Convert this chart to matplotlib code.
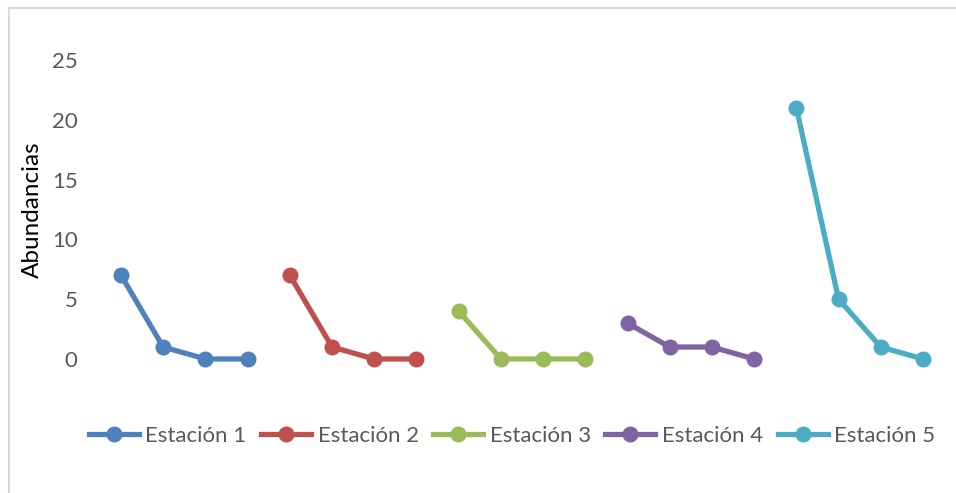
import numpy as np
import matplotlib
matplotlib.use('Agg')
import matplotlib.pyplot as plt
from matplotlib.lines import Line2D

plt.rcParams['font.family'] = ['Lato', 'DejaVu Sans']

# Abundances per station, four samples each
station_names = ["Estación 1", "Estación 2", "Estación 3", "Estación 4", "Estación 5"]
est1 = [7, 1, 0, 0]
est2 = [7, 1, 0, 0]
est3 = [4, 0, 0, 0]
est4 = [3, 1, 1, 0]
est5 = [21, 5, 1, 0]
series = [est1, est2, est3, est4, est5]
colors = ["#4F81BD", "#C0504D", "#9BBB59", "#8064A2", "#4BACC6"]
y_ticks = [0, 5, 10, 15, 20, 25]

n_cat = sum(len(s) for s in series)

fig = plt.figure(figsize=(9.56, 4.93), dpi=100)
ax = fig.add_axes([99.9 / 956, 1 - 420 / 493, 844.2 / 956, 390 / 493])

start = 0
for name, vals, col in zip(station_names, series, colors):
    y = np.full(n_cat, np.nan)
    y[start:start + len(vals)] = vals
    ax.plot(np.arange(n_cat), y, color=col, lw=3.8, marker='o', ms=10.5,
            solid_capstyle='round', label=name)
    start += len(vals)

ax.set_xlim(-0.5, n_cat - 0.5)
ax.set_ylim(-5.1, 27.5)
ax.set_xticks([])
ax.set_yticks(y_ticks)
ax.tick_params(axis='y', length=0, labelsize=16, labelcolor='#595959', pad=16)
for sp in ax.spines.values():
    sp.set_visible(False)

fig.text(32 / 956, 1 - 210 / 493, "Abundancias", rotation=90, fontsize=17.5,
         ha='center', va='center', color='black')

handles = [Line2D([], [], color=c, lw=3.8, marker='o', ms=10.5) for c in colors]
fig.legend(handles, station_names, loc='center', ncol=5, frameon=False,
           bbox_to_anchor=(512 / 956, 1 - 436 / 493), fontsize=16,
           labelcolor='#595959', handlelength=2.25, handletextpad=0.3,
           columnspacing=0.65)

# light chart-area border, top and left edges
fig.add_artist(Line2D([9 / 956, 9 / 956], [0, 1 - 8 / 493], color='#D9D9D9', lw=1.5))
fig.add_artist(Line2D([9 / 956, 1], [1 - 8 / 493, 1 - 8 / 493], color='#D9D9D9', lw=1.5))

fig.savefig("out.png", dpi=100)
